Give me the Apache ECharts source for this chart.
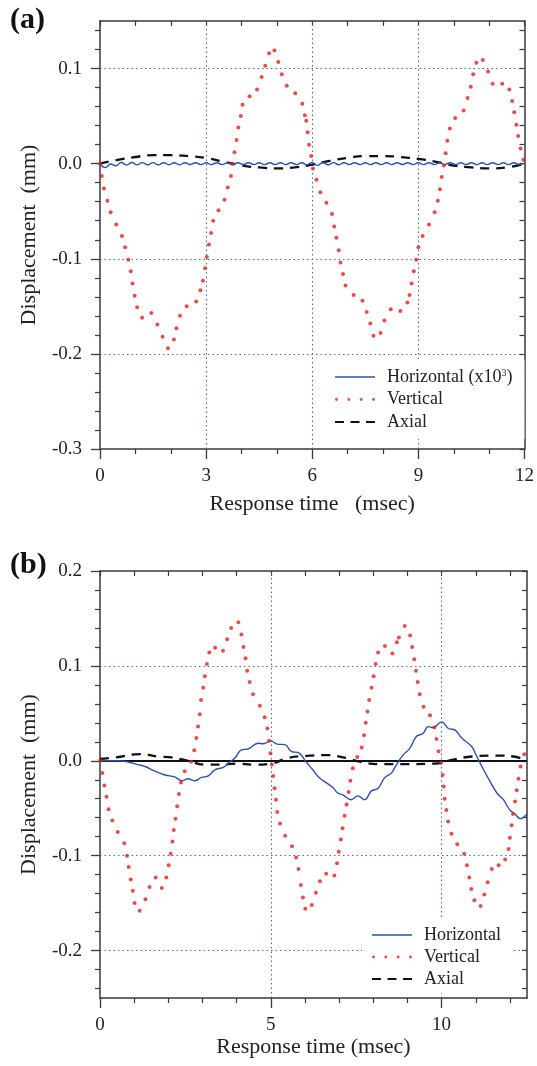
<!DOCTYPE html>
<html>
<head>
<meta charset="utf-8">
<script src="https://cdn.jsdelivr.net/npm/echarts@6/dist/echarts.min.js"></script>
<style>
html,body{margin:0;padding:0;background:#fff;}
#chart{width:537px;height:1066px;}
</style>
</head>
<body>
<div id="chart"></div>
<script>
// ---------- Panel (a) data ----------
const xMajorA = [0, 3, 6, 9, 12];
const xMinorA = [1, 2, 4, 5, 7, 8, 10, 11];
const yMajorA = [-0.3, -0.2, -0.1, 0, 0.1];
const yMinorA = [-0.28, -0.26, -0.24, -0.22, -0.18, -0.16, -0.14, -0.12, -0.08, -0.06, -0.04, -0.02, 0.02, 0.04, 0.06, 0.08, 0.12, 0.14];

// Horizontal (x10^3), sampled every 0.15 ms
const horizA_step = 0.15;
const horizA = [0, -0.0042, -0.0003, -0.0022, 0.0012, -0.0015, 0.0012, -0.0013, 0.0011, -0.0012,
  0.0011, -0.0012, 0.0010, -0.0011, 0.0010, -0.0011, 0.0010, -0.0010, 0.0010, -0.0010,
  0.0009, -0.0010, 0.0010, -0.0010, 0.0009, -0.0010, 0.0010, -0.0009, 0.0010, -0.0010,
  0.0009, -0.0010, 0.0010, -0.0010, 0.0009, -0.0010, 0.0010, -0.0010, 0.0009, -0.0012,
  0.0014, -0.0018, 0.0012, -0.0012, 0.0011, -0.0011, 0.0010, -0.0010, 0.0010, -0.0010,
  0.0009, -0.0010, 0.0010, -0.0010, 0.0009, -0.0010, 0.0010, -0.0009, 0.0010, -0.0010,
  0.0009, -0.0010, 0.0010, -0.0010, 0.0009, -0.0010, 0.0010, -0.0010, 0.0009, -0.0010,
  0.0010, -0.0010, 0.0009, -0.0010, 0.0010, -0.0010, 0.0009, -0.0010, 0.0010, -0.0008, 0.0];

const vertA = [[0,0],[0.05,-0.013],[0.11,-0.026],[0.21,-0.039],[0.30,-0.051],[0.46,-0.064],[0.62,-0.076],[0.71,-0.088],[0.80,-0.101],[0.87,-0.113],[0.92,-0.126],[0.98,-0.139],[1.05,-0.151],[1.19,-0.162],[1.45,-0.157],[1.62,-0.169],[1.77,-0.182],[1.92,-0.194],[2.09,-0.185],[2.16,-0.173],[2.26,-0.160],[2.45,-0.150],[2.72,-0.145],[2.84,-0.133],[2.91,-0.123],[2.97,-0.110],[3.02,-0.098],[3.08,-0.085],[3.14,-0.073],[3.20,-0.060],[3.35,-0.049],[3.52,-0.038],[3.61,-0.025],[3.70,-0.013],[3.74,0.0],[3.80,0.012],[3.86,0.025],[3.91,0.038],[3.98,0.050],[4.03,0.062],[4.23,0.071],[4.44,0.078],[4.57,0.091],[4.67,0.103],[4.78,0.116],[4.93,0.119],[5.04,0.107],[5.14,0.094],[5.28,0.082],[5.52,0.074],[5.72,0.063],[5.79,0.051],[5.83,0.045],[5.87,0.033],[5.91,0.020],[5.97,0.008],[6.02,-0.005],[6.12,-0.017],[6.23,-0.030],[6.40,-0.041],[6.56,-0.053],[6.62,-0.066],[6.68,-0.078],[6.75,-0.091],[6.80,-0.104],[6.87,-0.116],[6.94,-0.128],[7.17,-0.138],[7.42,-0.144],[7.54,-0.156],[7.64,-0.168],[7.73,-0.181],[7.93,-0.178],[8.04,-0.165],[8.22,-0.153],[8.49,-0.155],[8.69,-0.146],[8.75,-0.138],[8.81,-0.126],[8.87,-0.113],[8.94,-0.101],[9.00,-0.088],[9.12,-0.076],[9.30,-0.064],[9.46,-0.051],[9.55,-0.039],[9.61,-0.027],[9.66,-0.014],[9.72,-0.002],[9.77,0.011],[9.82,0.024],[9.89,0.037],[10.04,0.048],[10.28,0.056],[10.39,0.069],[10.48,0.081],[10.55,0.094],[10.64,0.106],[10.82,0.109],[10.97,0.097],[11.10,0.084],[11.37,0.084],[11.57,0.078],[11.65,0.066],[11.71,0.054],[11.77,0.041],[11.82,0.029],[11.89,0.016],[11.97,0.004]];

const axialA = [[0,0],[0.5,0.004],[1,0.007],[1.5,0.009],[2,0.009],[2.5,0.008],[3,0.006],[3.5,0.002],[4,-0.002],[4.5,-0.004],[5,-0.005],[5.5,-0.004],[6,-0.001],[6.5,0.003],[7,0.006],[7.5,0.008],[8,0.008],[8.5,0.007],[9,0.005],[9.5,0.002],[10,-0.002],[10.5,-0.004],[11,-0.005],[11.5,-0.004],[12,0.0]];

// ---------- Panel (b) data ----------
const xMajorB = [0, 5, 10];
const xMinorB = [1, 2, 3, 4, 6, 7, 8, 9, 11, 12];
const yMajorB = [-0.2, -0.1, 0, 0.1, 0.2];
const yMinorB = [-0.24, -0.22, -0.18, -0.16, -0.14, -0.12, -0.08, -0.06, -0.04, -0.02, 0.02, 0.04, 0.06, 0.08, 0.12, 0.14, 0.16, 0.18];

const horizB = [[0,0],[0.5,0.0],[0.8,-0.001],[1.1,-0.004],[1.32,-0.006],[1.61,-0.011],[1.9,-0.015],[2.19,-0.017],[2.39,-0.021],[2.58,-0.019],[2.78,-0.021],[2.97,-0.0175],[3.17,-0.016],[3.36,-0.0095],[3.61,-0.007],[3.75,-0.0025],[3.95,0.003],[4.14,0.0115],[4.34,0.0125],[4.63,0.0185],[4.78,0.018],[5.0,0.021],[5.19,0.0175],[5.41,0.017],[5.6,0.010],[5.83,0.008],[6.03,-0.001],[6.23,-0.0095],[6.42,-0.018],[6.62,-0.023],[6.81,-0.028],[6.96,-0.034],[7.11,-0.036],[7.35,-0.041],[7.55,-0.037],[7.75,-0.041],[7.94,-0.032],[8.14,-0.029],[8.33,-0.018],[8.53,-0.013],[8.68,-0.004],[8.87,0.006],[9.07,0.013],[9.26,0.0255],[9.46,0.029],[9.61,0.036],[9.75,0.035],[10.0,0.041],[10.2,0.034],[10.39,0.0325],[10.59,0.024],[10.88,0.015],[11.03,0.0045],[11.23,-0.0095],[11.42,-0.022],[11.62,-0.034],[11.81,-0.041],[12.0,-0.052],[12.15,-0.056],[12.3,-0.061],[12.5,-0.056]];

const vertB = [[0,0],[0.07,-0.013],[0.13,-0.026],[0.19,-0.038],[0.25,-0.051],[0.36,-0.063],[0.52,-0.075],[0.71,-0.087],[0.79,-0.100],[0.84,-0.112],[0.90,-0.125],[0.96,-0.137],[1.01,-0.150],[1.16,-0.158],[1.33,-0.146],[1.45,-0.133],[1.63,-0.123],[1.81,-0.134],[1.94,-0.123],[2.01,-0.110],[2.07,-0.098],[2.12,-0.085],[2.16,-0.073],[2.21,-0.061],[2.26,-0.048],[2.31,-0.035],[2.37,-0.023],[2.48,-0.011],[2.67,-0.001],[2.76,0.011],[2.82,0.024],[2.87,0.036],[2.92,0.049],[2.96,0.064],[3.02,0.077],[3.07,0.089],[3.13,0.102],[3.20,0.114],[3.37,0.119],[3.60,0.116],[3.72,0.128],[3.84,0.140],[4.05,0.146],[4.14,0.133],[4.20,0.120],[4.26,0.108],[4.31,0.095],[4.38,0.083],[4.48,0.070],[4.68,0.058],[4.82,0.046],[4.90,0.034],[4.95,0.021],[4.99,0.008],[5.03,-0.004],[5.07,-0.016],[5.11,-0.029],[5.15,-0.041],[5.19,-0.054],[5.27,-0.066],[5.42,-0.079],[5.62,-0.090],[5.74,-0.102],[5.81,-0.114],[5.88,-0.131],[5.94,-0.144],[6.01,-0.156],[6.20,-0.152],[6.32,-0.139],[6.44,-0.127],[6.62,-0.119],[6.86,-0.121],[6.94,-0.108],[6.99,-0.096],[7.05,-0.083],[7.10,-0.071],[7.16,-0.058],[7.22,-0.046],[7.28,-0.033],[7.33,-0.021],[7.40,-0.008],[7.53,0.004],[7.66,0.014],[7.73,0.027],[7.78,0.040],[7.83,0.052],[7.88,0.064],[7.95,0.077],[8.01,0.089],[8.07,0.102],[8.14,0.114],[8.34,0.121],[8.56,0.113],[8.69,0.125],[8.75,0.130],[8.92,0.142],[9.08,0.132],[9.14,0.120],[9.20,0.107],[9.25,0.095],[9.30,0.083],[9.36,0.070],[9.47,0.057],[9.66,0.048],[9.79,0.035],[9.85,0.023],[9.91,0.010],[9.98,-0.002],[10.03,-0.015],[10.06,-0.027],[10.09,-0.040],[10.14,-0.052],[10.19,-0.064],[10.29,-0.077],[10.46,-0.088],[10.66,-0.098],[10.74,-0.110],[10.81,-0.123],[10.87,-0.135],[10.96,-0.147],[11.14,-0.153],[11.25,-0.141],[11.35,-0.128],[11.47,-0.114],[11.67,-0.110],[11.86,-0.104],[11.96,-0.093],[12.00,-0.081],[12.05,-0.068],[12.09,-0.056],[12.15,-0.043],[12.20,-0.031],[12.25,-0.019],[12.31,-0.006],[12.42,0.007]];

const axialB = [[0,0.002],[0.44,0.0035],[1.17,0.007],[1.7,0.0045],[2.1,0.0035],[2.58,0.0],[3.07,-0.004],[3.5,-0.004],[4.0,-0.003],[4.5,-0.004],[5.0,-0.003],[5.5,0.003],[6.0,0.005],[6.6,0.006],[7.2,0.003],[7.6,-0.001],[8.2,-0.0035],[9.0,-0.0035],[9.8,-0.003],[10.3,0.001],[10.9,0.0045],[11.6,0.0055],[12.1,0.0045],[12.5,0.0]];

const gridXA = [3, 6, 9];
const gridYA = [0.1, -0.1, -0.2];
const gridXB = [5, 10];
const gridYB = [0.1, -0.1, -0.2];

// ---------- styling ----------
const FONT = '"Liberation Serif", "Times New Roman", serif';
const AXC = '#3a3a3a';
const BLUE = '#2f4fae';
const RED = '#e3201c';
const GRIDC = '#5062c4';
const ICON_DOTS = 'path://M0,1.5a1.5,1.5 0 1,0 3,0a1.5,1.5 0 1,0 -3,0Z M12.5,1.5a1.5,1.5 0 1,0 3,0a1.5,1.5 0 1,0 -3,0Z M25,1.5a1.5,1.5 0 1,0 3,0a1.5,1.5 0 1,0 -3,0Z M37.5,1.5a1.5,1.5 0 1,0 3,0a1.5,1.5 0 1,0 -3,0Z';
const ICON_SOLID = 'path://M0,0H40V1.5H0Z';
const ICON_DASH = 'path://M0,0H9V2.2H0Z M15.5,0H24.5V2.2H15.5Z M31,0H40V2.2H31Z';

const fmtY = v => (Math.abs(v) < 1e-9 ? '0.0' : v.toFixed(1));
const fmtX = v => String(Math.round(v));

function xAxes(gi, min, max, major, minor, name, gap) {
  const line = { color: AXC, width: 1.5 };
  return [
    { gridIndex: gi, type: 'value', position: 'bottom', min, max,
      axisLine: { onZero: false, lineStyle: line },
      axisTick: { customValues: major, length: 10, lineStyle: { color: AXC, width: 1.3 } },
      axisLabel: { customValues: major, margin: 18, fontSize: 19, fontFamily: FONT, color: '#222', formatter: fmtX },
      splitLine: { show: false },
      name, nameLocation: 'middle', nameGap: gap,
      nameTextStyle: { fontSize: 22, fontFamily: FONT, color: '#222' } },
    { gridIndex: gi, type: 'value', position: 'bottom', min, max,
      axisLine: { show: false, onZero: false },
      axisTick: { customValues: minor, length: 5, lineStyle: { color: AXC, width: 1.2 } },
      axisLabel: { show: false }, splitLine: { show: false } },
    { gridIndex: gi, type: 'value', position: 'top', min, max,
      axisLine: { onZero: false, lineStyle: line },
      axisTick: { customValues: major.concat(minor), inside: true, length: 5, lineStyle: { color: AXC, width: 1.2 } },
      axisLabel: { show: false }, splitLine: { show: false } }
  ];
}
function yAxes(gi, min, max, major, minor) {
  const line = { color: AXC, width: 1.5 };
  return [
    { gridIndex: gi, type: 'value', position: 'left', min, max,
      axisLine: { onZero: false, lineStyle: line },
      axisTick: { customValues: major, length: 9, lineStyle: { color: AXC, width: 1.3 } },
      axisLabel: { customValues: major, margin: 18, fontSize: 19, fontFamily: FONT, color: '#222', formatter: fmtY },
      splitLine: { show: false },
      name: 'Displacement  (mm)', nameLocation: 'middle', nameGap: 60,
      nameTextStyle: { fontSize: 22, fontFamily: FONT, color: '#222' } },
    { gridIndex: gi, type: 'value', position: 'left', min, max,
      axisLine: { show: false, onZero: false },
      axisTick: { customValues: minor, length: 5, lineStyle: { color: AXC, width: 1.2 } },
      axisLabel: { show: false }, splitLine: { show: false } },
    { gridIndex: gi, type: 'value', position: 'right', min, max,
      axisLine: { onZero: false, lineStyle: line },
      axisTick: { customValues: major.concat(minor), inside: true, length: 5, lineStyle: { color: AXC, width: 1.2 } },
      axisLabel: { show: false }, splitLine: { show: false } }
  ];
}

function gridMarks(xs, ys, zeroLine) {
  const d = [];
  xs.forEach(v => d.push({ xAxis: v }));
  ys.forEach(v => d.push({ yAxis: v }));
  if (zeroLine) d.push({ yAxis: 0, lineStyle: { type: 'solid', color: '#111', width: 1.8 } });
  return { silent: true, symbol: ['none', 'none'], z: 1, label: { show: false },
    lineStyle: { type: [1.5, 3], color: GRIDC, width: 1.1 }, emphasis: { disabled: true }, data: d };
}

const legendText = { fontFamily: FONT, fontSize: 18, color: '#222', padding: [0, 0, 0, 7], lineHeight: 18,
  rich: { sup: { fontFamily: FONT, fontSize: 10, verticalAlign: 'top', lineHeight: 10, padding: [0, 0, 6, 0] } } };

const option = {
  animation: false,
  backgroundColor: '#fff',
  grid: [
    { left: 100, right: 10, top: 21, height: 428 },
    { left: 100, right: 10, top: 571, height: 427 }
  ],
  xAxis: xAxes(0, 0, 12, xMajorA, xMinorA, 'Response time   (msec)', 44)
    .concat(xAxes(1, 0, 12.5, xMajorB, xMinorB, 'Response time (msec)', 35)),
  yAxis: yAxes(0, -0.3, 0.15, yMajorA, yMinorA).concat(yAxes(1, -0.25, 0.2, yMajorB, yMinorB)),
  legend: [
    { orient: 'vertical', left: 320, top: 360, padding: [8, 12, 8, 15], backgroundColor: '#fff',
      itemWidth: 40, itemHeight: 14, itemGap: 4.5, selectedMode: false, textStyle: legendText,
      formatter: n => (n === 'Horizontal (x10³)' ? 'Horizontal (x10{sup|3})' : n),
      data: [{ name: 'Horizontal (x10³)', icon: ICON_SOLID }, { name: 'Vertical', icon: ICON_DOTS }, { name: 'Axial', icon: ICON_DASH }] },
    { orient: 'vertical', left: 362, top: 917, padding: [9, 10, 5, 10], backgroundColor: '#fff',
      itemWidth: 40, itemHeight: 14, itemGap: 4, selectedMode: false, textStyle: legendText,
      data: [{ name: 'Horizontal', icon: ICON_SOLID }, { name: 'Vertical', icon: ICON_DOTS }, { name: 'Axial', icon: ICON_DASH }] }
  ],
  graphic: [
    { type: 'text', left: 10, top: 5, style: { text: '(a)', font: 'bold 30px "Liberation Serif"', fill: '#111' } },
    { type: 'text', left: 10, top: 550, style: { text: '(b)', font: 'bold 30px "Liberation Serif"', fill: '#111' } }
  ],
  series: [
    { name: 'grid-a', type: 'line', xAxisIndex: 0, yAxisIndex: 0, data: [], markLine: gridMarks(gridXA, gridYA, false) },
    { name: 'Axial', type: 'line', xAxisIndex: 0, yAxisIndex: 0, data: axialA, smooth: true, symbol: 'none',
      lineStyle: { color: '#111', width: 2.3, type: [9, 7] }, itemStyle: { color: '#111' }, z: 3 },
    { name: 'Horizontal (x10³)', type: 'line', xAxisIndex: 0, yAxisIndex: 0,
      data: horizA.map((v, i) => [i * horizA_step, v]), smooth: true, symbol: 'none',
      lineStyle: { color: BLUE, width: 1.4 }, itemStyle: { color: BLUE }, z: 4 },
    { name: 'Vertical', type: 'scatter', xAxisIndex: 0, yAxisIndex: 0, data: vertA, symbolSize: 4,
      itemStyle: { color: RED }, z: 5 },

    { name: 'grid-b', type: 'line', xAxisIndex: 3, yAxisIndex: 3, data: [], markLine: gridMarks(gridXB, gridYB, true) },
    { name: 'Axial', type: 'line', xAxisIndex: 3, yAxisIndex: 3, data: axialB, smooth: true, symbol: 'none',
      lineStyle: { color: '#111', width: 2.3, type: [9, 7] }, itemStyle: { color: '#111' }, z: 3 },
    { name: 'Horizontal', type: 'line', xAxisIndex: 3, yAxisIndex: 3, data: horizB, smooth: 0.4, symbol: 'none',
      lineStyle: { color: BLUE, width: 1.4 }, itemStyle: { color: BLUE }, z: 4 },
    { name: 'Vertical', type: 'scatter', xAxisIndex: 3, yAxisIndex: 3, data: vertB, symbolSize: 4,
      itemStyle: { color: RED }, z: 5 }
  ]
};

const chart = echarts.init(document.getElementById('chart'), null, { renderer: 'canvas' });
chart.setOption(option);
</script>
</body>
</html>
